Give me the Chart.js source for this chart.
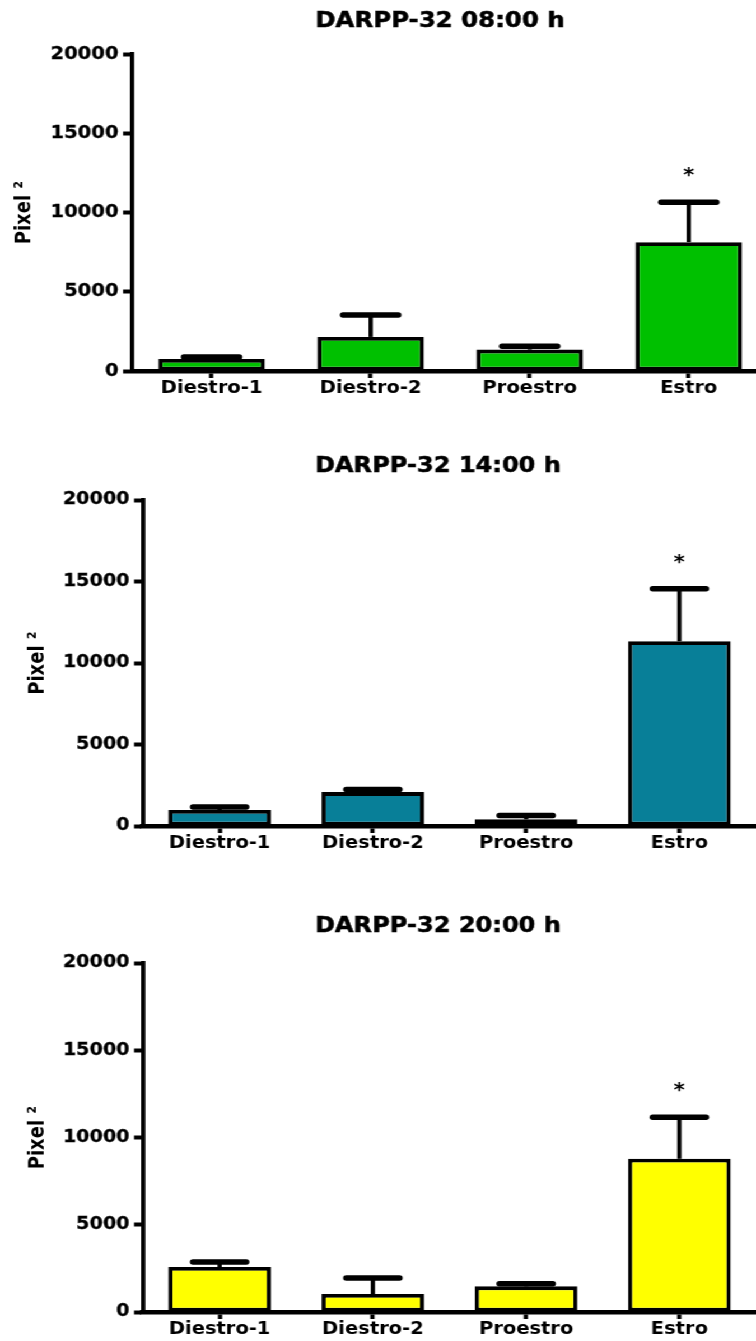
<!DOCTYPE html>
<html>
<head>
<meta charset="utf-8">
<script src="https://cdn.jsdelivr.net/npm/chart.js@4.4.1/dist/chart.umd.min.js"></script>
<style>
html, body { margin:0; padding:0; background:#fff; overflow:hidden; width:756px; height:1341px; }
#wrap { position:absolute; left:0; top:0; transform:scaleX(1.12); transform-origin:0 0; }
canvas { position:absolute; left:0; }
</style>
</head>
<body>
<div id="wrap">
  <canvas id="c1" width="686" height="400" style="top:0px"></canvas>
  <canvas id="c2" width="675" height="405" style="top:450px"></canvas>
  <canvas id="c3" width="675" height="431" style="top:910px"></canvas>
</div>
<script>
// fases do ciclo
const labels = ['Diestro-1', 'Diestro-2', 'Proestro', 'Estro']
const yTicks = [0, 5000, 10000, 15000, 20000]

// media e EPM (pixel^2)
const mean0800 = [760, 2150, 1350, 8130]
const sem0800  = [130, 1380, 210, 2510]
const mean1400 = [980, 2080, 410, 11330]
const sem1400  = [180, 160, 240, 3220]
const mean2000 = [2580, 1030, 1470, 8780]
const sem2000  = [280, 920, 150, 2380]
const stars    = ['', '', '', '*']

const FONT = '"DejaVu Sans", Verdana, sans-serif'

const extras = {
  id: 'extras',
  afterDatasetsDraw(chart, args, opts) {
    const { ctx, scales: { y } } = chart
    const meta = chart.getDatasetMeta(0)
    ctx.save()
    ctx.strokeStyle = '#000'
    ctx.fillStyle = '#000'
    opts.mean.forEach((m, i) => {
      const bar = meta.data[i]
      const cx = bar.x
      const y0 = y.getPixelForValue(m)
      const y1 = y.getPixelForValue(m + opts.sem[i])
      const hw = bar.width * 0.26
      ctx.lineCap = 'butt'
      ctx.lineWidth = 3.8
      ctx.beginPath(); ctx.moveTo(cx, y0); ctx.lineTo(cx, y1); ctx.stroke()
      ctx.lineWidth = 5.5
      ctx.lineCap = 'round'
      ctx.beginPath(); ctx.moveTo(cx - hw, y1); ctx.lineTo(cx + hw, y1); ctx.stroke()
      if (opts.stars[i]) {
        ctx.font = 'bold 19px ' + FONT
        ctx.textAlign = 'center'
        ctx.textBaseline = 'middle'
        ctx.fillText(opts.stars[i], cx, y1 - 26)
      }
    })
    ctx.font = 'bold ' + opts.titleSize + 'px ' + FONT
    ctx.textAlign = 'center'
    ctx.textBaseline = 'middle'
    ctx.lineWidth = 0.5
    ctx.fillText(opts.title, opts.titleX, opts.titleY)
    ctx.strokeText(opts.title, opts.titleX, opts.titleY)
    ctx.restore()
  }
}

const grafico = (id, title, mean, sem, cor, lay) => {
  new Chart(document.getElementById(id), {
    type: 'bar',
    data: {
      labels: labels,
      datasets: [{
        data: mean,
        backgroundColor: cor,
        borderColor: '#000',
        borderWidth: 3.8,
        borderSkipped: false,
        barPercentage: 0.67,
        categoryPercentage: 1
      }]
    },
    options: {
      responsive: false,
      animation: false,
      devicePixelRatio: 1,
      layout: { padding: { top: lay.top, left: 0, right: 0, bottom: 0 } },
      plugins: {
        legend: { display: false },
        tooltip: { enabled: false },
        title: { display: false },
        extras: {
          mean: mean, sem: sem, stars: stars, title: title,
          titleX: lay.titleX, titleY: lay.titleY, titleSize: lay.titleSize
        }
      },
      scales: {
        x: {
          afterFit: s => { s.height = 29 },
          grid: { offset: false, drawOnChartArea: false, tickLength: 7, tickWidth: 3.8, tickColor: '#000' },
          border: { display: true, color: '#000', width: 4.5 },
          ticks: {
            color: '#000', padding: 0,
            font: { family: FONT, weight: 'bold', size: 17.4 }
          }
        },
        y: {
          min: 0, max: 20000,
          afterFit: s => { s.width = lay.yw },
          afterBuildTicks: s => { s.ticks = yTicks.map(v => ({ value: v })) },
          grid: { drawOnChartArea: false, tickLength: 8, tickWidth: 4, tickColor: '#000' },
          border: { display: true, color: '#000', width: 3.8 },
          ticks: {
            color: '#000', padding: 4, textStrokeColor: '#000', textStrokeWidth: 0.3,
            font: { family: FONT, weight: 'bold', size: lay.tickSize },
            callback: v => String(v)
          },
          title: {
            display: true, text: 'Pixel ²', color: '#000', padding: lay.ytp,
            font: { family: '"DejaVu Sans Condensed", "DejaVu Sans", sans-serif', weight: 'bold', size: 20 }
          }
        }
      }
    },
    plugins: [extras]
  })
}

grafico('c1', 'DARPP-32 08:00 h', mean0800, sem0800, '#00c000',
  { top: 54, yw: 117.9, titleX: 392.9, titleY: 21, titleSize: 21.8, tickSize: 17.5, ytp: 10 })
grafico('c2', 'DARPP-32 14:00 h', mean1400, sem1400, '#087f98',
  { top: 50, yw: 127.7, titleX: 391, titleY: 16, titleSize: 21.5, tickSize: 17.1, ytp: 22 })
grafico('c3', 'DARPP-32 20:00 h', mean2000, sem2000, '#ffff00',
  { top: 53, yw: 127.7, titleX: 391, titleY: 16, titleSize: 21.5, tickSize: 17.1, ytp: 22 })
</script>
</body>
</html>
